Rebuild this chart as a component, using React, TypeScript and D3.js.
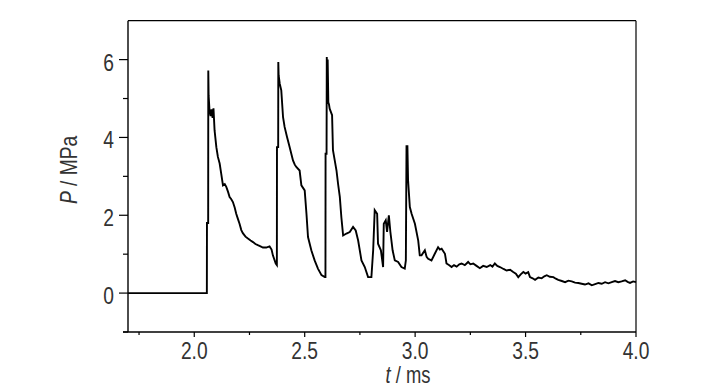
import React from "react"
import * as d3 from "d3"

// time in ms, pressure in MPa
const times = [
  1.7, 2.057, 2.0575, 2.063, 2.0635, 2.065, 2.069, 2.074, 2.078, 2.083, 2.087, 2.092,
  2.1, 2.107, 2.115, 2.122, 2.13, 2.138, 2.145, 2.153, 2.16, 2.167, 2.175, 2.183, 2.19,
  2.198, 2.205, 2.213, 2.22, 2.232, 2.243, 2.255, 2.266, 2.277, 2.288, 2.3, 2.311,
  2.326, 2.341, 2.35, 2.356, 2.369, 2.374,
  2.3745, 2.38, 2.3805, 2.382, 2.387, 2.394, 2.402, 2.409, 2.42, 2.432, 2.447, 2.455,
  2.462, 2.477, 2.485, 2.5, 2.508, 2.515, 2.53, 2.545, 2.56, 2.576, 2.591, 2.594,
  2.5945, 2.599, 2.6, 2.601, 2.604, 2.607, 2.61, 2.613, 2.624, 2.628, 2.636, 2.644,
  2.651, 2.659, 2.666, 2.674, 2.689, 2.704, 2.719, 2.731, 2.742, 2.757, 2.772, 2.787,
  2.802, 2.81, 2.817, 2.828, 2.832, 2.845, 2.855, 2.858, 2.867, 2.873, 2.881, 2.888,
  2.898, 2.908, 2.923, 2.938, 2.953, 2.958, 2.961, 2.963, 2.965, 2.968, 2.976, 2.984,
  2.999, 3.014, 3.021, 3.029, 3.044, 3.052, 3.059, 3.074, 3.089, 3.104, 3.112, 3.12,
  3.135, 3.142, 3.153, 3.165, 3.176, 3.188, 3.2, 3.21, 3.225, 3.24, 3.25, 3.263, 3.278,
  3.293, 3.308, 3.324, 3.34, 3.35, 3.361, 3.372, 3.384, 3.4, 3.414, 3.43, 3.444, 3.456,
  3.467, 3.478, 3.49, 3.5, 3.512, 3.52, 3.532, 3.543, 3.558, 3.573, 3.585, 3.596, 3.61,
  3.626, 3.637, 3.648, 3.664, 3.679, 3.694, 3.709, 3.724, 3.739, 3.754, 3.769, 3.785,
  3.8, 3.815, 3.83, 3.845, 3.86, 3.875, 3.89, 3.905, 3.92, 3.935, 3.951, 3.962, 3.973,
  3.987, 4.0
]

const pressure = [
  0, 0, 1.8, 1.8, 5.72, 5.08, 4.7, 4.55, 4.72, 4.5, 4.75, 4.18,
  3.75, 3.5, 3.33, 3.07, 2.77, 2.8, 2.73, 2.6, 2.47, 2.42, 2.34, 2.2, 2.04,
  1.9, 1.78, 1.62, 1.54, 1.45, 1.4, 1.35, 1.31, 1.26, 1.23, 1.2, 1.17,
  1.17, 1.2, 1.12, 0.97, 0.76, 0.72,
  3.75, 3.75, 5.94, 5.6, 5.38, 5.21, 4.52, 4.27, 4.01, 3.75, 3.41, 3.3,
  3.24, 3.15, 2.77, 2.64, 2.04, 1.44, 1.1, 0.84, 0.63, 0.46, 0.41, 0.41,
  3.58, 3.58, 6.07, 5.2, 6.0, 4.9, 4.85, 4.74, 4.57, 3.67, 3.41, 3.15,
  2.81, 2.47, 1.95, 1.48, 1.53, 1.57, 1.7, 1.61, 1.35, 0.84, 0.67, 0.41,
  0.41, 1.1, 2.13, 2.04, 1.27, 1.1, 0.67, 1.78, 1.87, 1.57, 2.0, 1.57,
  1.1, 0.84, 0.8, 0.67, 0.63, 0.84, 3.8, 3.3, 3.8, 2.9, 2.21, 2.04,
  1.78, 1.35, 0.97, 0.97, 1.1, 0.93, 0.88, 0.84, 1.01, 1.18, 1.12, 1.14,
  1.01, 0.76, 0.72, 0.67, 0.72, 0.68, 0.74, 0.76, 0.72, 0.8, 0.74, 0.76, 0.7,
  0.64, 0.7, 0.67, 0.72, 0.68, 0.76, 0.7, 0.67, 0.62, 0.58, 0.6, 0.54, 0.5,
  0.41, 0.48, 0.54, 0.5, 0.54, 0.41, 0.38, 0.34, 0.4, 0.38, 0.43, 0.46, 0.42,
  0.41, 0.37, 0.34, 0.31, 0.28, 0.32, 0.3, 0.27, 0.26, 0.24, 0.22, 0.25,
  0.2, 0.23, 0.26, 0.24, 0.28, 0.25, 0.28, 0.31, 0.28, 0.3, 0.33, 0.29, 0.26,
  0.3, 0.28
]

const xTicks = [2.0, 2.5, 3.0, 3.5, 4.0]
const xMinorTicks = [1.75, 2.25, 2.75, 3.25, 3.75]
const yTicks = [0, 2, 4, 6]
const yMinorTicks = [-1, 1, 3, 5]

// narrow sans: Liberation Sans squeezed horizontally
const font = "'Liberation Sans', Arial, sans-serif"
const textColor = "#333"
const squeeze = 0.8

function Label(props: { x: number, y: number, anchor: string, size?: number, rotate?: number, children: React.ReactNode }) {
  const rot = props.rotate ? ` rotate(${props.rotate})` : ""
  return (
    <text
      transform={`translate(${props.x},${props.y})${rot} scale(${squeeze},1)`}
      textAnchor={props.anchor}
      fontFamily={font}
      fontSize={props.size || 24}
      fill={textColor}
    >
      {props.children}
    </text>
  )
}

export default function App() {
  const width = 728
  const height = 390
  const left = 128
  const right = 636
  const top = 20.7
  const bottom = 332

  const x = d3.scaleLinear().domain([1.7, 4.0]).range([left, right])
  const y = d3.scaleLinear().domain([-1, 7]).range([bottom, top])

  const data = times.map((t, i) => [t, pressure[i]] as [number, number])
  const line = d3.line<[number, number]>()
    .x(d => x(d[0]))
    .y(d => y(d[1]))

  return (
    <svg width={width} height={height} style={{ position: "absolute", left: 0, top: 0 }}>
      <rect x={0} y={0} width={width} height={height} fill="#fff" />
      <path d={line(data) || ""} fill="none" stroke="#000" strokeWidth={1.9} strokeLinejoin="miter" />

      {/* frame */}
      <line x1={left - 5} x2={right} y1={bottom} y2={bottom} stroke="#000" strokeWidth={1.4} />
      <line x1={left} x2={left} y1={top} y2={bottom} stroke="#000" strokeWidth={1.4} />
      <line x1={left} x2={right} y1={top} y2={top} stroke="#000" strokeWidth={1.2} />
      <line x1={right} x2={right} y1={top} y2={bottom} stroke="#000" strokeWidth={1.2} />

      {xTicks.map(t => (
        <g key={"x" + t}>
          <line x1={x(t)} x2={x(t)} y1={bottom} y2={bottom + 5} stroke="#000" strokeWidth={1.2} />
          <Label x={x(t)} y={bottom + 27} anchor="middle">{t.toFixed(1)}</Label>
        </g>
      ))}
      {xMinorTicks.map(t => (
        <line key={"xm" + t} x1={x(t)} x2={x(t)} y1={bottom} y2={bottom + 3} stroke="#000" strokeWidth={1.2} />
      ))}

      {yTicks.map(v => (
        <g key={"y" + v}>
          <line x1={left - 9} x2={left} y1={y(v)} y2={y(v)} stroke="#000" strokeWidth={1.2} />
          <Label x={left - 14} y={y(v) + 11} anchor="end">{v}</Label>
        </g>
      ))}
      {yMinorTicks.map(v => (
        <line key={"ym" + v} x1={left - 5} x2={left} y1={y(v)} y2={y(v)} stroke="#000" strokeWidth={1.2} />
      ))}

      <Label x={408} y={383} anchor="middle" size={23}>
        <tspan fontStyle="italic">t</tspan> / ms
      </Label>
      <Label x={77} y={170} anchor="middle" rotate={-90}>
        <tspan fontStyle="italic">P</tspan> / MPa
      </Label>
    </svg>
  )
}
